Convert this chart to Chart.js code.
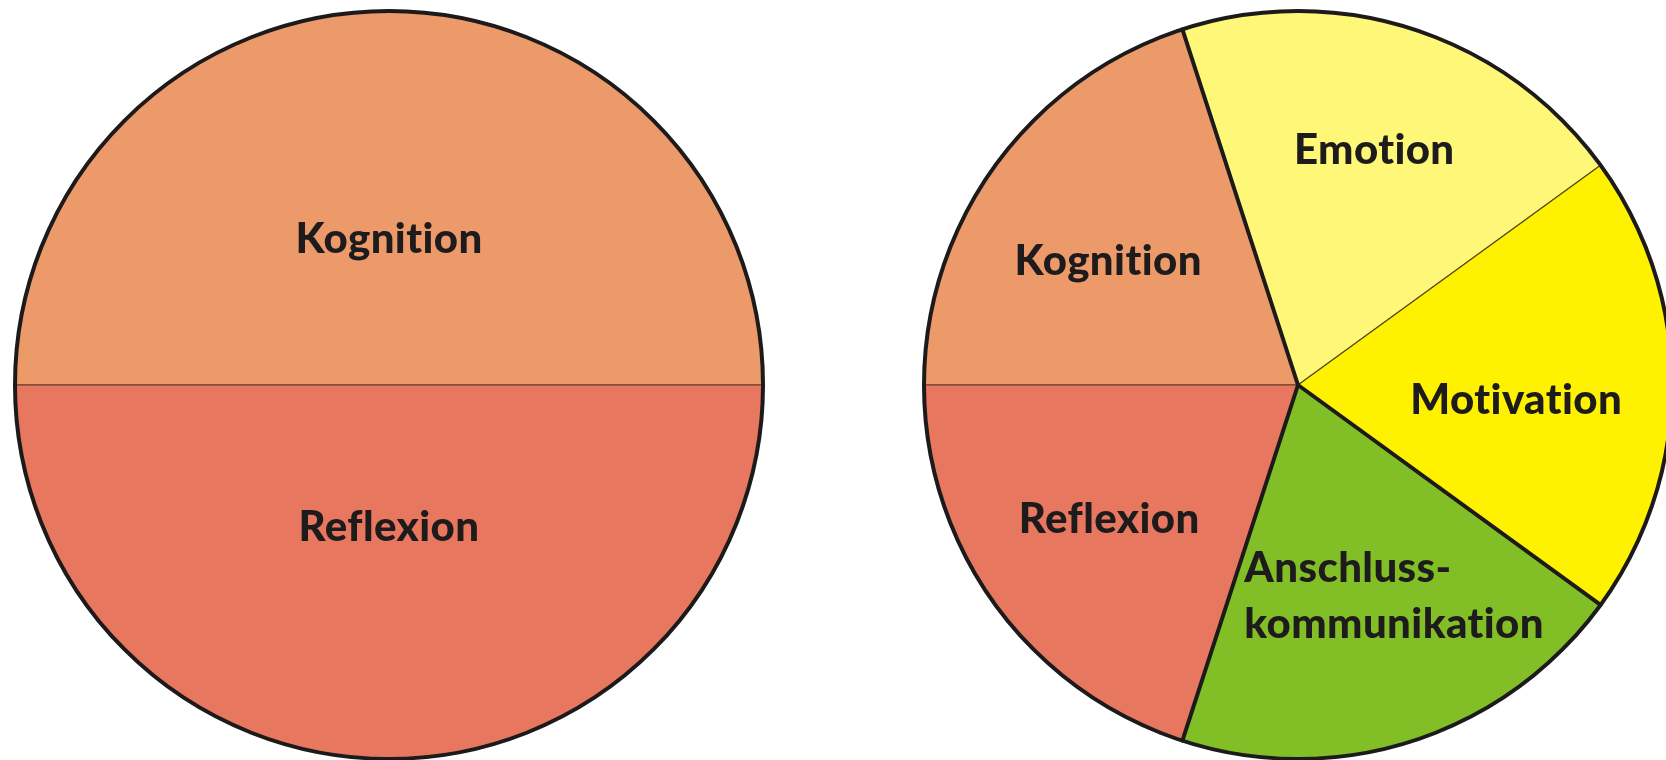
<!DOCTYPE html>
<html>
<head>
<meta charset="utf-8">
<script src="https://cdn.jsdelivr.net/npm/chart.js@4"></script>
<style>
  html, body { margin: 0; padding: 0; background: #fff; overflow: hidden; width: 1666px; height: 760px; }
  canvas { position: absolute; top: 0; }
  #pie-left { left: 4px; }
  #pie-right { left: 913px; }
</style>
</head>
<body>
<canvas id="pie-left" width="770" height="770"></canvas>
<canvas id="pie-right" width="770" height="770"></canvas>
<script>
// data
const leftLabels = ['Kognition', 'Reflexion'];
const leftValues = [50, 50];
const rightLabels = ['Kognition', 'Emotion', 'Motivation', 'Anschluss-\nkommunikation', 'Reflexion'];
const rightValues = [20, 20, 20, 20, 20];

// styles
const colors = {
  'Kognition': '#EC9A6A',
  'Reflexion': '#E8775F',
  'Emotion': '#FFF777',
  'Motivation': '#FFF200',
  'Anschluss-\nkommunikation': '#82BF27'
};
const leftEdges = [1, 1];            // width of the line at the start of each slice
const rightEdges = [1, 4, 1, 4, 4];
const leftLabelPos = [0.39, 0.38];   // label distance as share of radius
const rightLabelPos = [0.605, 0.66, 0.585, 0.62, 0.62];
const leftLabelTurn = [0, 0];        // label angle shift, degrees
const rightLabelTurn = [-3, 0, 4, -6.5, 0.5];

const piePlugin = {
  id: 'pieDeco',
  afterDatasetsDraw(chart, args, opts) {
    const ctx = chart.ctx;
    const arcs = chart.getDatasetMeta(0).data;
    const labels = chart.data.labels;
    const cx = arcs[0].x, cy = arcs[0].y, r = arcs[0].outerRadius;
    ctx.save();
    ctx.strokeStyle = '#1c1a1a';
    ctx.lineCap = 'round';
    // thick dividers
    arcs.forEach((a, i) => {
      if (opts.edges[i] > 1) {
        ctx.lineWidth = opts.edges[i];
        ctx.beginPath();
        ctx.moveTo(cx, cy);
        ctx.lineTo(cx + Math.cos(a.startAngle) * r, cy + Math.sin(a.startAngle) * r);
        ctx.stroke();
      }
    });
    // outline
    ctx.lineWidth = 4;
    ctx.beginPath();
    ctx.arc(cx, cy, r, 0, Math.PI * 2);
    ctx.stroke();
    // labels
    ctx.fillStyle = '#1E1B1C';
    ctx.font = '900 42px Lato';
    ctx.letterSpacing = '0.4px';
    ctx.textBaseline = 'middle';
    arcs.forEach((a, i) => {
      const mid = (a.startAngle + a.endAngle) / 2 + opts.turn[i] * Math.PI / 180;
      const d = r * opts.pos[i];
      const x = cx + Math.cos(mid) * d;
      const y = cy + Math.sin(mid) * d;
      const lines = labels[i].split('\n');
      if (lines.length > 1) {
        const w = Math.max(...lines.map(l => ctx.measureText(l).width));
        ctx.textAlign = 'left';
        lines.forEach((l, k) => {
          ctx.fillText(l, x - w / 2, y + (k - (lines.length - 1) / 2) * 56);
        });
      } else {
        ctx.textAlign = 'center';
        ctx.fillText(lines[0], x, y);
      }
    });
    ctx.restore();
  }
};

function makePie(id, labels, values, edges, pos, turn) {
  return new Chart(document.getElementById(id), {
    type: 'pie',
    data: {
      labels: labels,
      datasets: [{
        data: values,
        backgroundColor: labels.map(l => colors[l]),
        borderColor: 'rgba(60, 35, 20, 0.75)',
        borderWidth: 1.2
      }]
    },
    options: {
      responsive: false,
      animation: false,
      rotation: 270,
      radius: 374,
      layout: { padding: 10 },
      plugins: {
        legend: { display: false },
        tooltip: { enabled: false },
        pieDeco: { edges: edges, pos: pos, turn: turn }
      }
    },
    plugins: [piePlugin]
  });
}

// eslint-disable-next-line no-unused-vars
const leftPie = makePie('pie-left', leftLabels, leftValues, leftEdges, leftLabelPos, leftLabelTurn);
// eslint-disable-next-line no-unused-vars
const rightPie = makePie('pie-right', rightLabels, rightValues, rightEdges, rightLabelPos, rightLabelTurn);
</script>
</body>
</html>
